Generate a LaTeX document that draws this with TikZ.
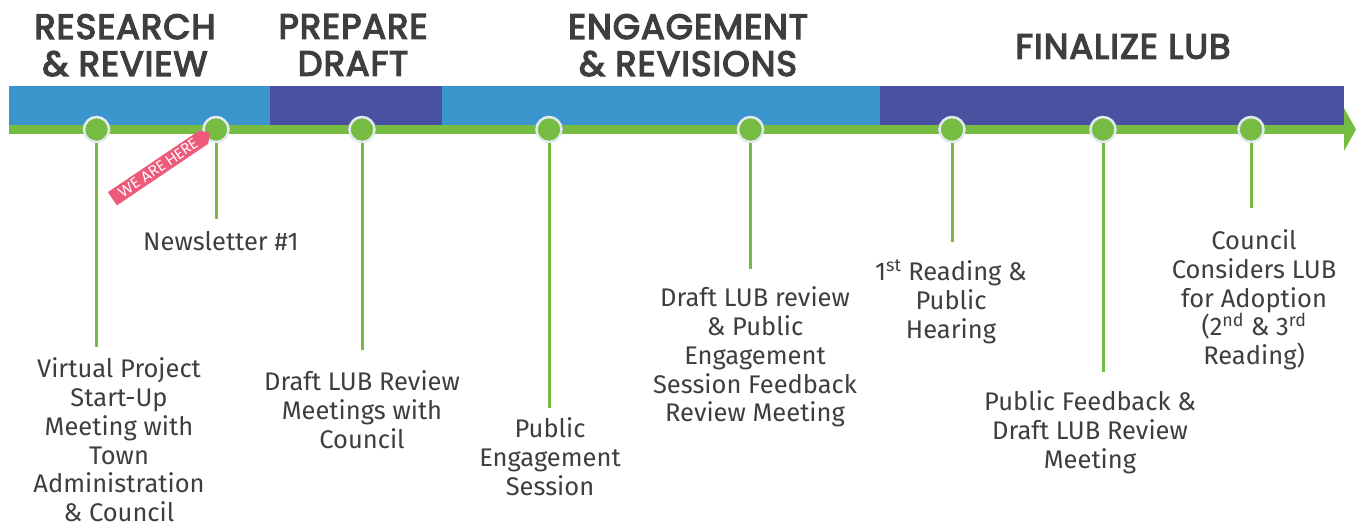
\documentclass[tikz,border=0pt]{standalone}
\usepackage{fontspec}
\setmainfont{Fira Sans}
\newfontfamily\headfont{Poppins}[FakeBold=4, LetterSpace=3]
\newfontfamily\tagfont{Poppins}
\usetikzlibrary{shapes.symbols}
\definecolor{bandblue}{HTML}{3B96CE}
\definecolor{bandpurple}{HTML}{4A51A1}
\definecolor{tlgreen}{HTML}{76BC42}
\definecolor{ringgrey}{HTML}{E2E9F0}
\definecolor{txtgrey}{HTML}{3E3E3E}
\definecolor{tagpink}{HTML}{EE5B7A}
\tikzset{
  milestone/.style={circle, fill=tlgreen, draw=ringgrey, line width=2.5pt, minimum size=25pt, inner sep=0pt},
  desc/.style={align=center, font=\fontsize{25.5}{28.7}\selectfont, text=txtgrey, inner xsep=0pt, anchor=north, outer sep=0pt},
  phase/.style={align=center, font=\headfont\fontsize{35}{37}\selectfont, text=txtgrey, inner sep=0pt, anchor=north},
  stem/.style={draw=tlgreen, line width=3pt},
}
\begin{document}
\begin{tikzpicture}[x=1pt,y=-1pt]
\useasboundingbox (0,0) rectangle (1356,523);
% phase headers
\node[phase] (h1) at (125,14) {RESEARCH\\\& REVIEW};
\node[phase] (h2) at (353,14) {PREPARE\\DRAFT};
\node[phase] (h3) at (688,14) {ENGAGEMENT\\\& REVISIONS};
\node[phase] (h4) at (1123,34) {FINALIZE LUB};
% bands
\fill[bandblue] (9,86) rectangle (270,125);
\fill[bandpurple] (270,86) rectangle (442,125);
\fill[bandblue] (442,86) rectangle (880,125);
\fill[bandpurple] (880,86) rectangle (1344,125);
% timeline arrow
\fill[tlgreen] (9,125) rectangle (1344.5,134);
\fill[tlgreen] (1344,108) -- (1356,129.5) -- (1344,151) -- cycle;
% milestones
\node[milestone] (m1) at (96.5,129.5) {};
\node[milestone] (m2) at (216,129.5) {};
\node[milestone] (m3) at (362,129.5) {};
\node[milestone] (m4) at (549,129.5) {};
\node[milestone] (m5) at (750.5,129.5) {};
\node[milestone] (m6) at (952,129.5) {};
\node[milestone] (m7) at (1103,129.5) {};
\node[milestone] (m8) at (1251,129.5) {};
% descriptions
\node[desc, inner ysep=11pt] (t1) at (119,347) {Virtual Project\\Start-Up\\Meeting with\\Town\\Administration\\\& Council};
\node[desc, inner ysep=12pt] (t2) at (221,219) {Newsletter \#1};
\node[desc, inner ysep=21pt] (t3) at (362,350) {Draft LUB Review\\Meetings with\\Council};
\node[desc, inner ysep=10pt] (t4) at (550,408) {Public\\Engagement\\Session};
\node[desc, inner ysep=18pt] (t5) at (755,269) {Draft LUB review\\\& Public\\Engagement\\Session Feedback\\Review Meeting};
\node[desc, inner ysep=18pt] (t6) at (951,242) {1\textsuperscript{st} Reading \&\\Public\\Hearing};
\node[desc, inner ysep=19pt] (t7) at (1090,372) {Public Feedback \&\\Draft LUB Review\\Meeting};
\node[desc, inner ysep=22pt] (t8) at (1254,208) {Council\\Considers LUB\\for Adoption\\(2\textsuperscript{nd} \& 3\textsuperscript{rd}\\Reading)};
% stems
\foreach \i in {1,...,8} {
  \draw[stem] (m\i) -- (m\i |- t\i.north);
}
% we are here tag
\node[signal, signal to=east, fill=tagpink, text=white, rotate=34, minimum height=16pt, minimum width=118pt, inner xsep=2pt, inner ysep=0.5pt, font=\tagfont\fontsize{15}{15}\selectfont] (tag) at (158,168) {WE ARE HERE};
\end{tikzpicture}
\end{document}
